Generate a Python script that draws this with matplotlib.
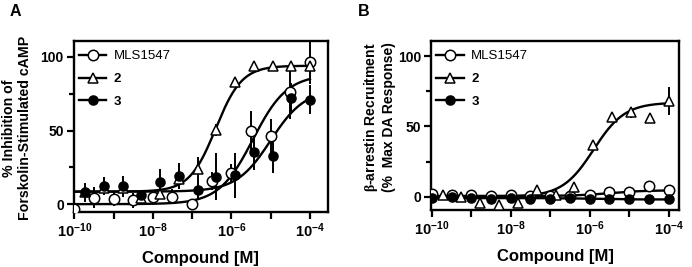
import numpy as np
import matplotlib
matplotlib.use('Agg')
import matplotlib.pyplot as plt
from matplotlib.lines import Line2D
from matplotlib.ticker import NullLocator, FixedLocator

plt.rcParams['font.family'] = ['Liberation Sans', 'DejaVu Sans']
plt.rcParams['font.weight'] = 'bold'
plt.rcParams['mathtext.fontset'] = 'custom'
plt.rcParams['mathtext.rm'] = 'Liberation Sans:bold'
plt.rcParams['mathtext.bf'] = 'Liberation Sans:bold'
plt.rcParams['mathtext.sf'] = 'Liberation Serif'

# log10 concentrations
x_half = [-10, -9.5, -9, -8.5, -8, -7.5, -7, -6.5, -6, -5.5, -5, -4.5, -4]
x_third = [-9.72, -9.25, -8.77, -8.29, -7.82, -7.34, -6.86, -6.39, -5.91, -5.43, -4.95, -4.48, -4.0]

# panel A: % inhibition of forskolin-stimulated cAMP
mls_a = [-3, 4.5, 3.5, 2.5, 5, 5, 0, 15.5, 21, 50, 46, 76, 96.5]
mls_a_err = [2, 7, 5, 5, 4, 5, 3, 6, 6, 13, 12, 18, 15]
c2_a = [8, 11, 11, 4, 7, 17, 24, 50.5, 83, 93.5, 93.5, 93.5, 93.5]
c2_a_err = [6.5, 4, 4, 3, 3, 7, 8, 4, 3, 2, 2, 2, 3]
c3_a = [8, 12.5, 12, 6, 15, 19, 9.5, 18.5, 19.5, 35.5, 33, 72, 71]
c3_a_err = [4, 6, 7, 3, 9, 9, 6, 16, 15, 12, 12, 10, 10]

# panel B: beta-arrestin recruitment
mls_b = [2, 1, 1.5, 0.5, 1, 0.5, 0.5, 0.5, 1, 3, 3.5, 7.5, 4.5]
mls_b_err = [1, 1, 1, 1, 1, 1, 1, 1, 1, 1, 1, 1, 1]
c2_b = [1, 0, -4.5, -6, -4.5, 4.5, 1, 7, 37, 57, 60, 56, 68]
c2_b_err = [1, 1, 2, 2, 2, 2, 1, 2, 3, 2, 4, 2, 10]
c3_b = [-1, -0.5, -1, -1.5, -1, -1.5, -2, -1, -1.5, -1.5, -2, -2, -2]
c3_b_err = [1, 1, 1, 1, 1, 1, 1, 1, 1, 1, 1, 1, 1]

# fitted curve parameters: bottom, top, logEC50, hill
fit_a = {'mls': [0, 88, -5.45, 1.0], 'c2': [8.5, 94, -6.4, 1.3], 'c3': [8.5, 78, -5.0, 1.0]}
fit_b = {'mls': [0.5, 4.5, -5.5, 1.0], 'c2': [0, 67, -5.9, 1.1], 'c3': [-1, -2, -6.0, 1.0]}

styles = {
    'mls': dict(marker='o', mfc='white', ms=7.5),
    'c2': dict(marker='^', mfc='white', ms=7.5),
    'c3': dict(marker='o', mfc='black', ms=6.5),
}

xx = np.linspace(-10, -4, 300)


def hill(x, p):
    b, t, c, h = p
    return b + (t - b) / (1 + 10 ** (h * (c - x)))


def panel(ax, series, fits, ylim, xright):
    for key in ['mls', 'c3', 'c2']:
        ax.plot(10.0 ** xx, hill(xx, fits[key]), color='black', lw=1.7, zorder=2)
    for key, (xs, ys, es) in series.items():
        ax.errorbar(10.0 ** np.array(xs), ys, yerr=es, fmt='none', ecolor='black',
                    elinewidth=1.4, capsize=0, zorder=3)
        ax.plot(10.0 ** np.array(xs), ys, ls='none', mec='black', mew=1.1,
                zorder=4, **styles[key])
    ax.set_xscale('log')
    ax.set_xlim(10 ** -10.02, 10 ** xright)
    ax.set_ylim(*ylim)
    exps = list(range(-10, -3))
    ax.xaxis.set_major_locator(FixedLocator([10.0 ** e for e in exps]))
    ax.xaxis.set_minor_locator(NullLocator())
    ax.set_xticklabels([r'$\mathbf{10^{%d}}$' % e if e % 2 == 0 else '' for e in exps],
                       fontsize=10.5)
    ax.set_yticks([0, 50, 100])
    ax.set_yticklabels(['0', '50', '100'], fontsize=10, fontweight='bold')
    ax.yaxis.set_minor_locator(FixedLocator([25, 75]))
    ax.tick_params(which='major', width=1.6, length=5, pad=2)
    ax.tick_params(which='minor', width=1.6, length=3.5)
    for s in ax.spines.values():
        s.set_linewidth(1.7)
    ax.set_xlabel('Compound [M]', fontsize=12, fontweight='bold', labelpad=8)
    handles = [Line2D([], [], color='black', lw=1.7, mec='black', mew=1.1, **styles[k])
               for k in ['mls', 'c2', 'c3']]
    leg = ax.legend(handles, ['MLS1547', '2', '3'], loc='upper left', frameon=False,
                    fontsize=9.5, handlelength=2.1, handletextpad=0.55, labelspacing=0.8,
                    borderpad=0.3, borderaxespad=0.1, bbox_to_anchor=(0.0, 0.975))
    for t in leg.get_texts():
        t.set_fontweight('bold')
    leg.get_texts()[0].set_fontweight('normal')


fig = plt.figure(figsize=(6.92, 2.67), dpi=100)
axA = fig.add_axes([73.5 / 692, 1 - 211.5 / 267, (328 - 73.5) / 692, (211.5 - 40.7) / 267])
axB = fig.add_axes([431 / 692, 1 - 210 / 267, (679.3 - 431) / 692, (210 - 40.7) / 267])

panel(axA, {'mls': (x_half, mls_a, mls_a_err), 'c2': (x_third, c2_a, c2_a_err),
            'c3': (x_third, c3_a, c3_a_err)}, fit_a, (-5, 111), -3.54)
panel(axB, {'mls': (x_half, mls_b, mls_b_err), 'c2': (x_third, c2_b, c2_b_err),
            'c3': (x_half, c3_b, c3_b_err)}, fit_b, (-9.5, 111), -3.73)

axA.set_ylabel('% Inhibition of\nForskolin-Stimulated cAMP', fontsize=10.2, fontweight='bold',
               linespacing=1.2)
axA.yaxis.set_label_coords(-0.163, 0.49)
axB.set_ylabel('$\\mathsf{\\beta}$-arrestin Recruitment\n(%  Max DA Response)', fontsize=10,
               fontweight='bold', linespacing=1.2)
axB.yaxis.set_label_coords(-0.14, 0.55)

fig.text(10 / 692, 1 - 11 / 267, 'A', fontsize=11.5, fontweight='bold', va='center', ha='left')
fig.text(358 / 692, 1 - 11 / 267, 'B', fontsize=11.5, fontweight='bold', va='center', ha='left')

fig.savefig('out.png', dpi=100)
